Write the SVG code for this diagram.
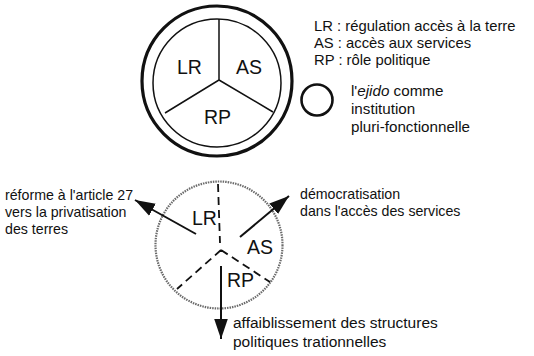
<svg xmlns="http://www.w3.org/2000/svg" width="534" height="356" viewBox="0 0 534 356">
<defs>
<style>
text{font-family:"Liberation Sans",Arial,Helvetica,sans-serif;fill:#111}
.lab{font-size:19.5px}
.leg{font-size:14.8px}
.ej{font-size:15.2px}
.note{font-size:14.2px}
.note2{font-size:15.5px}
.solid{fill:none;stroke:#111;stroke-width:1.5}
.dash{fill:none;stroke:#111;stroke-width:1.8;stroke-dasharray:8 5}
.arrow{fill:none;stroke:#111;stroke-width:2}
</style>
<marker id="ah" viewBox="0 0 10 10" refX="10" refY="5" markerWidth="20" markerHeight="20" markerUnits="userSpaceOnUse" orient="auto">
<path d="M0,1.6 L10,5 L0,8.4 Z" fill="#111"/>
</marker>
</defs>
<g id="ejido-top">
<circle cx="217" cy="81" r="75" fill="none" stroke="#111" stroke-width="3.2"/>
<circle cx="217" cy="83" r="64" fill="none" stroke="#111" stroke-width="1.5"/>
<path class="solid" d="M219,19 L219,80 L165,113 M219,80 L273,112"/>
<text class="lab" x="177" y="74">LR</text>
<text class="lab" x="236" y="74">AS</text>
<text class="lab" x="204" y="124">RP</text>
</g>
<g id="legend">
<text class="leg" x="314" y="31">LR : régulation accès à la terre</text>
<text class="leg" x="314" y="48">AS : accès aux services</text>
<text class="leg" x="314" y="65">RP : rôle politique</text>
</g>
<g id="ejido-symbol">
<circle cx="317" cy="100" r="15.5" fill="none" stroke="#111" stroke-width="2.6"/>
<text class="ej" x="351" y="96">l'<tspan font-style="italic">ejido</tspan> comme</text>
<text class="ej" x="351" y="114">institution</text>
<text class="ej" x="351" y="132">pluri-fonctionnelle</text>
</g>
<g id="ejido-bottom">
<circle cx="219" cy="245" r="63.5" fill="none" stroke="#6a6a6a" stroke-width="2.2" stroke-dasharray="1.5 1"/>
<path class="dash" d="M218,184 L220,243"/>
<path class="dash" d="M221,250 L177,289 M221,250 L270,282"/>
<text class="lab" x="192" y="225">LR</text>
<text class="lab" x="247" y="254">AS</text>
<text class="lab" x="227" y="287">RP</text>
</g>
<g id="connectors">
<line class="arrow" x1="196" y1="234" x2="135" y2="200" marker-end="url(#ah)"/>
<line class="arrow" x1="240" y1="237" x2="289" y2="196" marker-end="url(#ah)"/>
<line class="arrow" x1="221" y1="266" x2="221" y2="339" marker-end="url(#ah)"/>
</g>
<g id="labels-bottom">
<text class="note" x="5" y="200">réforme à l'article 27</text>
<text class="note" x="5" y="217">vers la privatisation</text>
<text class="note" x="5" y="234">des terres</text>
<text class="note" x="300" y="199">démocratisation</text>
<text class="note" x="300" y="216">dans l'accès des services</text>
<text class="note2" x="233" y="328">affaiblissement des structures</text>
<text class="note2" x="233" y="347">politiques trationnelles</text>
</g>
</svg>
